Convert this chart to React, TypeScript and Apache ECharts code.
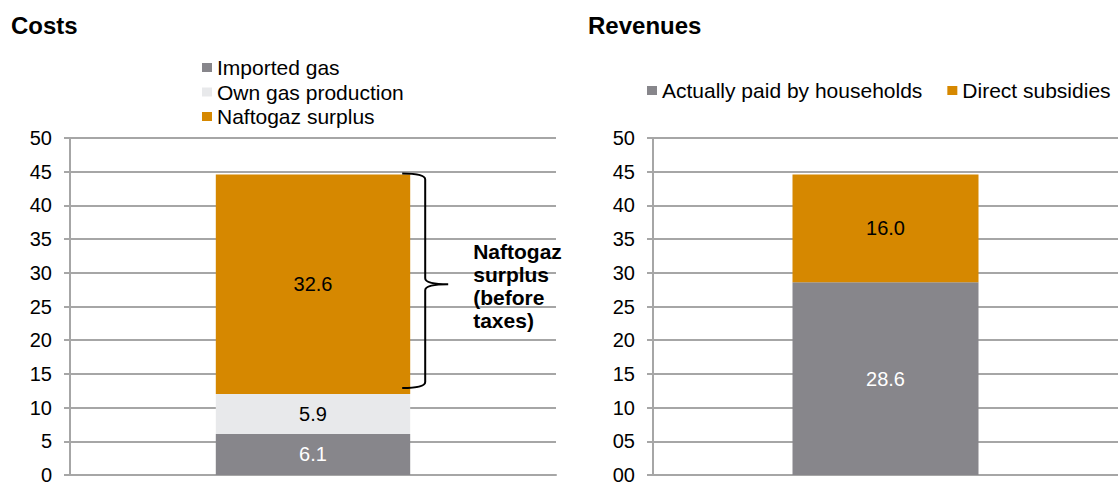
import React, { useEffect, useRef } from 'react';
import * as echarts from 'echarts';

const costCategories = ['Costs'];
const importedGas = [6.1];
const ownGasProduction = [5.9];
const naftogazSurplus = [32.6];

const revenueCategories = ['Revenues'];
const paidByHouseholds = [28.6];
const directSubsidies = [16.0];

const braceLabel = 'Naftogaz\nsurplus\n(before\ntaxes)';

const FONT = '"Liberation Sans", Arial, Helvetica, sans-serif';
const ORANGE = '#D68800';
const DARK = '#87868B';
const LIGHT = '#E8E9EB';
const GRID = '#A6A6A6';

export default function App() {
  const ref = useRef<HTMLDivElement>(null);
  useEffect(() => {
    const chart = echarts.init(ref.current!, null, { renderer: 'svg' });

    const braceData = importedGas.map((v, i) => [
      i,
      v + ownGasProduction[i],
      v + ownGasProduction[i] + naftogazSurplus[i],
    ]);

    const yAxisBase = (gridIndex: number, pad: boolean) => ({
      gridIndex,
      type: 'value',
      min: 0,
      max: 50,
      interval: 5,
      axisLine: { show: true, lineStyle: { color: GRID, width: 2 } },
      axisTick: { show: true, length: 6, lineStyle: { color: GRID, width: 2 } },
      axisLabel: {
        fontSize: 20,
        color: '#000',
        fontFamily: FONT,
        margin: 18,
        formatter: (v: number) => (pad ? String(v).padStart(2, '0') : String(v)),
      },
      splitLine: { show: true, lineStyle: { color: GRID, width: 2 } },
    });

    const xAxisBase = (gridIndex: number, data: string[]) => ({
      gridIndex,
      type: 'category',
      data,
      axisLine: { show: true, lineStyle: { color: GRID, width: 2 } },
      axisTick: { show: false },
      axisLabel: { show: false },
    });

    const lbl = (color: string) => ({
      show: true,
      position: 'inside',
      color,
      fontSize: 20,
      fontFamily: FONT,
      formatter: (p: any) => Number(p.value).toFixed(1),
    });

    const legendText = { fontSize: 21, color: '#000', fontFamily: FONT };

    chart.setOption({
      animation: false,
      textStyle: { fontFamily: FONT },
      graphic: [
        {
          type: 'text',
          x: 11,
          y: 25,
          style: { text: 'Costs', font: `bold 24px ${FONT}`, fill: '#000', verticalAlign: 'middle' },
        },
        {
          type: 'text',
          x: 588,
          y: 25,
          style: { text: 'Revenues', font: `bold 24px ${FONT}`, fill: '#000', verticalAlign: 'middle' },
        },
      ],
      legend: [
        {
          orient: 'vertical',
          left: 202,
          top: 57,
          padding: 0,
          itemGap: 3.5,
          itemWidth: 10,
          itemHeight: 9,
          icon: 'rect',
          textStyle: legendText,
          data: ['Imported gas', 'Own gas production', 'Naftogaz surplus'],
        },
        {
          orient: 'horizontal',
          left: 647,
          top: 80,
          padding: 0,
          itemGap: 25,
          itemWidth: 10,
          itemHeight: 9,
          icon: 'rect',
          textStyle: legendText,
          data: ['Actually paid by households', 'Direct subsidies'],
        },
      ],
      grid: [
        { left: 70, top: 138, width: 486, height: 342 },
        { left: 653, top: 138, width: 478, height: 342 },
      ],
      xAxis: [xAxisBase(0, costCategories), xAxisBase(1, revenueCategories)],
      yAxis: [yAxisBase(0, false), yAxisBase(1, true)],
      series: [
        {
          name: 'Imported gas',
          type: 'bar',
          stack: 'cost',
          xAxisIndex: 0,
          yAxisIndex: 0,
          barWidth: '40%',
          data: importedGas,
          itemStyle: { color: DARK },
          label: lbl('#FFFFFF'),
        },
        {
          name: 'Own gas production',
          type: 'bar',
          stack: 'cost',
          xAxisIndex: 0,
          yAxisIndex: 0,
          barWidth: '40%',
          data: ownGasProduction,
          itemStyle: { color: LIGHT },
          label: lbl('#000000'),
        },
        {
          name: 'Naftogaz surplus',
          type: 'bar',
          stack: 'cost',
          xAxisIndex: 0,
          yAxisIndex: 0,
          barWidth: '40%',
          data: naftogazSurplus,
          itemStyle: { color: ORANGE },
          label: lbl('#000000'),
        },
        {
          name: 'Actually paid by households',
          type: 'bar',
          stack: 'rev',
          xAxisIndex: 1,
          yAxisIndex: 1,
          barWidth: '40%',
          data: paidByHouseholds,
          itemStyle: { color: DARK },
          label: lbl('#FFFFFF'),
        },
        {
          name: 'Direct subsidies',
          type: 'bar',
          stack: 'rev',
          xAxisIndex: 1,
          yAxisIndex: 1,
          barWidth: '40%',
          data: directSubsidies,
          itemStyle: { color: ORANGE },
          label: lbl('#000000'),
        },
        {
          name: 'brace',
          type: 'custom',
          xAxisIndex: 0,
          yAxisIndex: 0,
          silent: true,
          clip: false,
          z: 10,
          encode: { x: 0, y: [1, 2] },
          data: braceData,
          renderItem: (params: any, api: any) => {
            const cat = api.value(0);
            const lo = api.coord([cat, api.value(1)]);
            const hi = api.coord([cat, api.value(2)]);
            const bw = api.size([1, 0])[0] * 0.4;
            const xs = lo[0] + bw / 2 - 8;
            const xv = xs + 23;
            const tip = xv + 23;
            const top = hi[1] - 1;
            const bot = lo[1] - 6;
            const mid = (hi[1] + lo[1]) / 2;
            const r = 6;
            const d =
              `M${xs},${top} Q${xv},${top} ${xv},${top + r} L${xv},${mid - r} ` +
              `Q${xv},${mid} ${tip},${mid} Q${xv},${mid} ${xv},${mid + r} ` +
              `L${xv},${bot - r} Q${xv},${bot} ${xs},${bot}`;
            return {
              type: 'group',
              children: [
                {
                  type: 'path',
                  shape: { pathData: d },
                  style: { fill: 'none', stroke: '#000', lineWidth: 2 },
                },
                {
                  type: 'text',
                  x: tip + 25,
                  y: mid + 2,
                  style: {
                    text: braceLabel,
                    font: `bold 21px ${FONT}`,
                    fill: '#000',
                    align: 'left',
                    verticalAlign: 'middle',
                    lineHeight: 23,
                  },
                },
              ],
            };
          },
        },
      ],
    });
    return () => chart.dispose();
  }, []);
  return (
    <div
      ref={ref}
      style={{ position: 'absolute', left: 0, top: 0, width: 1118, height: 485 }}
    />
  );
}
